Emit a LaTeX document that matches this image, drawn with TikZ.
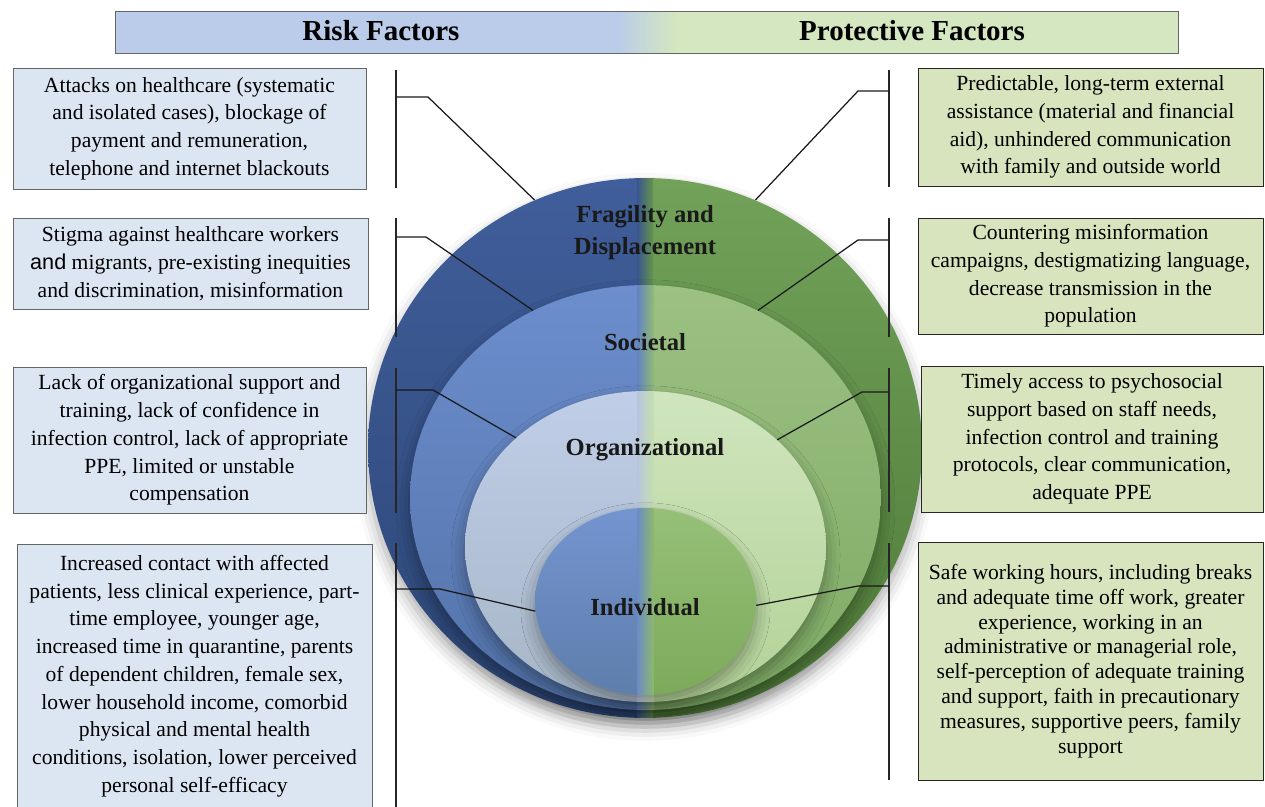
\documentclass[tikz,border=0pt]{standalone}
\usepackage{fontspec}
\setmainfont{Liberation Serif}
\newfontfamily\andfont{Liberation Sans}
\usetikzlibrary{shapes.geometric,shadows.blur}

\definecolor{outerblue}{RGB}{64,94,155}
\definecolor{outerbluedk}{RGB}{44,70,118}
\definecolor{outergreen}{RGB}{114,162,90}
\definecolor{outergreendk}{RGB}{78,122,56}
\definecolor{socblue}{RGB}{108,142,205}
\definecolor{socbluedk}{RGB}{82,114,168}
\definecolor{socgreen}{RGB}{156,193,131}
\definecolor{socgreendk}{RGB}{126,170,100}
\definecolor{orgblue}{RGB}{192,206,232}
\definecolor{orgbluedk}{RGB}{166,182,198}
\definecolor{orggreen}{RGB}{208,229,190}
\definecolor{orggreendk}{RGB}{178,210,150}
\definecolor{indblue}{RGB}{116,148,208}
\definecolor{indbluedk}{RGB}{94,126,172}
\definecolor{indgreen}{RGB}{150,192,120}
\definecolor{indgreendk}{RGB}{124,170,90}
\definecolor{hdrblue}{RGB}{186,204,233}
\definecolor{hdrgreen}{RGB}{212,231,192}
\definecolor{riskfill}{RGB}{220,230,242}
\definecolor{protfill}{RGB}{215,228,189}

\begin{document}
\begin{tikzpicture}[x=0.02cm,y=-0.02cm,
      riskbox/.style={draw=black!60,fill=riskfill,align=center,inner sep=0pt,font=\fontsize{12.3}{15.8}\selectfont},
      protbox/.style={draw=black!85,fill=protfill,align=center,inner sep=0pt,font=\fontsize{12.3}{15.8}\selectfont},
      ring/.style n args={4}{ellipse,inner sep=0pt,
        blur shadow={shadow xshift=0pt,shadow yshift=-5pt,shadow blur radius=8pt,shadow opacity=35},
        path picture={
          \shade[top color=#1,bottom color=#2] (path picture bounding box.north west) rectangle (path picture bounding box.south);
          \shade[top color=#3,bottom color=#4] (path picture bounding box.north) rectangle (path picture bounding box.south east);
          \shade[left color=#1!65!#2,right color=#3!65!#4] ([xshift=-0.16cm]path picture bounding box.north) rectangle ([xshift=0.16cm]path picture bounding box.south);
        }},
      layer/.style={font=\bfseries\fontsize{14}{18.2}\selectfont,align=center,text=black!90},
      title/.style={font=\bfseries\fontsize{16.5}{20}\selectfont},
      bracket/.style={line width=1pt,black!85},
      link/.style={line width=0.7pt,black!90}]
    \useasboundingbox (0,0) rectangle (1265,806);

    \node (header) [minimum width=21.26cm,minimum height=0.84cm,inner sep=0pt,draw=black!60,
      path picture={
        \fill[hdrblue] (path picture bounding box.south west) rectangle ([xshift=-0.6cm]path picture bounding box.north);
        \fill[hdrgreen] ([xshift=0.6cm]path picture bounding box.south) rectangle (path picture bounding box.north east);
        \shade[left color=hdrblue,right color=hdrgreen] ([xshift=-0.6cm]path picture bounding box.south) rectangle ([xshift=0.6cm]path picture bounding box.north);
      }] at (646.5,32) {};
    \node (risktitle) [title] at (381,31) {Risk Factors};
    \node (prottitle) [title] at (912,31) {Protective Factors};

    % nested layers
    \node (fragility) [ring={outerblue}{outerbluedk}{outergreen}{outergreendk},minimum width=11.08cm,minimum height=10.8cm] at (645,448) {};
    \node (societal) [ring={socblue}{socbluedk}{socgreen}{socgreendk},minimum width=9.42cm,minimum height=8.5cm] at (645.5,497.5) {};
    \node (organizational) [ring={orgblue}{orgbluedk}{orggreen}{orggreendk},minimum width=7.22cm,minimum height=6.22cm] at (645.5,546.5) {};
    \node (individual) [ring={indblue}{indbluedk}{indgreen}{indgreendk},minimum width=4.42cm,minimum height=3.74cm] at (645.5,601.5) {};
    \node (fragtext) [layer] at (645,233) {Fragility and\\Displacement};
    \node (soctext) [layer] at (645,342) {Societal};
    \node (orgtext) [layer] at (645,450) {Organizational};
    \node (indtext) [layer] at (645,607) {Individual};

    % risk side
    \node (risk1) [riskbox,minimum width=7.06cm,minimum height=2.42cm] at (189.5,128.5)
      {Attacks on healthcare (systematic\\and isolated cases), blockage of\\payment and remuneration,\\telephone and internet blackouts};
    \node (risk2) [riskbox,minimum width=7.1cm,minimum height=1.82cm] at (190.5,263.5)
      {Stigma against healthcare workers\\{\andfont and} migrants, pre-existing inequities\\and discrimination, misinformation};
    \node (risk3) [riskbox,minimum width=7.06cm,minimum height=2.92cm] at (189.5,440)
      {Lack of organizational support and\\training, lack of confidence in\\infection control, lack of appropriate\\PPE, limited or unstable\\compensation};
    \node (risk4) [riskbox,minimum width=7.1cm,minimum height=5.6cm] at (194.5,684) {};
    \node (risk4text) [align=center,font=\fontsize{12.3}{15.8}\selectfont] at (194.5,676)
      {Increased contact with affected\\patients, less clinical experience, part-\\time employee, younger age,\\increased time in quarantine, parents\\of dependent children, female sex,\\lower household income, comorbid\\physical and mental health\\conditions, isolation, lower perceived\\personal self-efficacy};

    % protective side
    \node (prot1) [protbox,minimum width=6.9cm,minimum height=2.36cm] at (1090.5,127)
      {Predictable, long-term external\\assistance (material and financial\\aid), unhindered communication\\with family and outside world};
    \node (prot2) [protbox,minimum width=6.9cm,minimum height=2.32cm] at (1090.5,276)
      {Countering misinformation\\campaigns, destigmatizing language,\\decrease transmission in the\\population};
    \node (prot3) [protbox,minimum width=6.84cm,minimum height=2.92cm] at (1092,439)
      {Timely access to psychosocial\\support based on staff needs,\\infection control and training\\protocols, clear communication,\\adequate PPE};
    \node (prot4) [protbox,minimum width=6.9cm,minimum height=4.76cm,font=\fontsize{12.3}{14.1}\selectfont] at (1090.5,661)
      {Safe working hours, including breaks\\and adequate time off work, greater\\experience, working in an\\administrative or managerial role,\\self-perception of adequate training\\and support, faith in precautionary\\measures, supportive peers, family\\support};

    % brackets
    \draw[bracket] (396,70) -- (396,188);
    \draw[bracket] (396,218) -- (396,337);
    \draw[bracket] (396,368) -- (396,513);
    \draw[bracket] (396,543) -- (396,820);
    \draw[bracket] (889,70) -- (889,187);
    \draw[bracket] (889,218) -- (889,337);
    \draw[bracket] (889,368) -- (889,512);
    \draw[bracket] (889,543) -- (889,780);

    \coordinate (tickL1) at (396,97);
    \coordinate (tickL2) at (396,237);
    \coordinate (tickL3) at (396,390);
    \coordinate (tickL4) at (396,589);
    \coordinate (tickR1) at (889,91);
    \coordinate (tickR2) at (889,240);
    \coordinate (tickR3) at (889,392);
    \coordinate (tickR4) at (889,586);

    \draw[link] (tickL1) -- ++(32,0) -- (fragility.114);
    \draw[link] (tickL2) -- ++(30,0) -- (societal.121.6);
    \draw[link] (tickL3) -- ++(37,0) -- (organizational.140);
    \draw[link] (tickL4) -- ++(44,0) -- (individual.185.9);
    \draw[link] (tickR1) -- ++(-31,0) -- (fragility.66.3);
    \draw[link] (tickR2) -- ++(-31,0) -- (societal.59.3);
    \draw[link] (tickR3) -- ++(-27,0) -- (organizational.39.7);
    \draw[link] (tickR4) -- ++(-31,0) -- (individual.-2.8);
  \end{tikzpicture}
\end{document}
